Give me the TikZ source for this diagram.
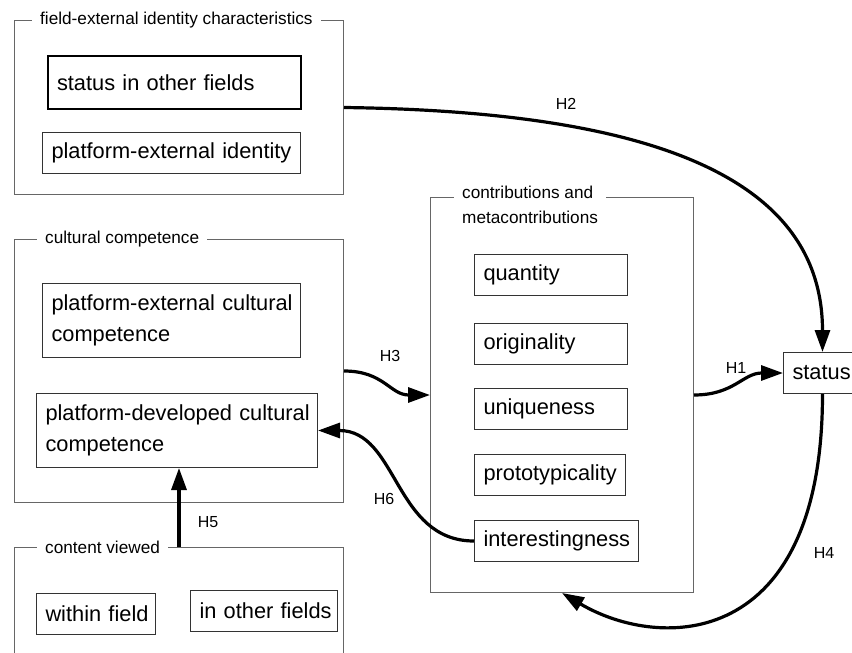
\documentclass[tikz,border=0pt]{standalone}
\usepackage{fontspec}
\setmainfont{Liberation Sans}
\usetikzlibrary{arrows.meta}
\newcommand\ifont{\fontsize{21.8}{31}\selectfont}
\newcommand\tfont{\fontsize{17.2}{25}\selectfont}
\newcommand\lfont{\fontsize{16}{19}\selectfont}
\begin{document}
\begin{tikzpicture}[x=1pt,y=-1pt,
 gbox/.style={draw=black!60, line width=1pt, inner sep=0pt, anchor=north west},
 gtitle/.style={fill=white, font=\tfont, inner xsep=8pt, inner ysep=1pt, anchor=west},
 ibox/.style={draw=black!80, line width=1pt, font=\ifont, align=left, inner xsep=9pt, inner ysep=0pt, anchor=north west},
 arr/.style={line width=3.2pt, -{Triangle[length=22pt,width=15pt]}},
 hlab/.style={font=\lfont, inner sep=1pt}]
\useasboundingbox (0,0) rectangle (852,653);
\clip (0,0) rectangle (852,653);
% group boxes
\node[gbox, minimum width=329pt, minimum height=174pt] (fe) at (14,20) {};
\node[gbox, minimum width=329pt, minimum height=263pt] (cc) at (14,239) {};
\node[gbox, minimum width=329pt, minimum height=130pt] (cv) at (14,547) {};
\node[gbox, minimum width=263pt, minimum height=395pt] (contrib) at (430,197) {};
% group titles
\node[gtitle] (fet) at (32,20) {field-external identity characteristics};
\node[gtitle] (cct) at (37,239) {cultural competence};
\node[gtitle] (cvt) at (37,547) {content viewed};
\node[gtitle, anchor=north west, align=left, inner ysep=0pt] (cot) at (454,186) {contributions and\\metacontributions};
% inner boxes
\node[ibox, draw=black, line width=2pt, text width=235pt, minimum height=53pt] (sof) at (47,55) {\mbox{status in other fields}};
\node[ibox, text width=240pt, minimum height=41pt] (pei) at (42,132) {\mbox{platform-external identity}};
\node[ibox, text width=240pt, minimum height=74pt] (pecc) at (42,283) {\mbox{platform-external cultural}\\competence};
\node[ibox, text width=263pt, minimum height=74pt] (pdc) at (36,393) {\mbox{platform-developed cultural}\\competence};
\node[ibox, text width=101pt, minimum height=41pt] (wf) at (36,593) {\mbox{within field}};
\node[ibox, text width=129pt, minimum height=41pt] (iof) at (190,590) {\mbox{in other fields}};
\node[ibox, text width=135pt, minimum height=41pt] (qty) at (474,254) {quantity};
\node[ibox, text width=135pt, minimum height=41pt] (org) at (474,323) {originality};
\node[ibox, text width=135pt, minimum height=41pt] (unq) at (474,388) {uniqueness};
\node[ibox, text width=133pt, minimum height=41pt] (pro) at (474,454) {prototypicality};
\node[ibox, text width=146pt, minimum height=41pt] (int) at (474,520) {interestingness};
\node[ibox, text width=60pt, minimum height=41pt] (st) at (783,352) {status};
% connectors
\draw[arr] (fe.east) .. controls +(307,4) and +(0,-175) .. (st.north);
\draw[arr] (contrib.east) .. controls +(40,0) and +(-40,0) .. (st.west);
\draw[arr] (cc.east) .. controls +(40,0) and +(-40,0) .. (contrib.west);
\draw[arr] (int.west) .. controls +(-80,0) and +(80,0) .. (pdc.east);
\draw[arr] (cv.north) -- (cv.north |- pdc.south);
\draw[arr] (st.south) .. controls +(0,257) and +(98,58) .. (contrib.south);
% labels
\node[hlab] (h1) at (736,368) {H1};
\node[hlab] (h2) at (566,104) {H2};
\node[hlab] (h3) at (390,356) {H3};
\node[hlab] (h4) at (824,553) {H4};
\node[hlab] (h5) at (208,522) {H5};
\node[hlab] (h6) at (384,499) {H6};
\end{tikzpicture}
\end{document}
